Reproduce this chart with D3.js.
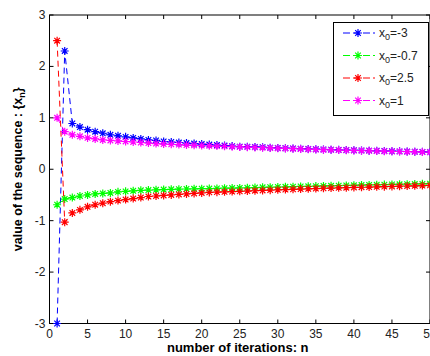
<!DOCTYPE html>
<html>
<head>
<meta charset="utf-8">
<script src="https://cdn.jsdelivr.net/npm/d3@7"></script>
<style>
  body { margin: 0; background: #fff; }
  svg { display: block; font-family: "Liberation Sans", Arial, sans-serif; }
</style>
</head>
<body>
<div id="chart"></div>
<script>
// values, n = 1..50
const seriesBlue = [-3, 2.3, 0.89, 0.82, 0.77, 0.73, 0.70, 0.67, 0.65, 0.63,
  0.61, 0.59, 0.57, 0.56, 0.54, 0.53, 0.52, 0.51, 0.50, 0.49,
  0.48, 0.47, 0.46, 0.45, 0.44, 0.44, 0.435, 0.43, 0.42, 0.415,
  0.41, 0.405, 0.40, 0.395, 0.39, 0.385, 0.38, 0.377, 0.373, 0.37,
  0.366, 0.362, 0.358, 0.355, 0.352, 0.348, 0.345, 0.342, 0.338, 0.335];
const seriesGreen = [-0.69, -0.58, -0.55, -0.52, -0.50, -0.48, -0.47, -0.46, -0.44, -0.43,
  -0.42, -0.41, -0.405, -0.40, -0.395, -0.39, -0.387, -0.384, -0.381, -0.378,
  -0.375, -0.372, -0.369, -0.366, -0.363, -0.36, -0.356, -0.352, -0.348, -0.345,
  -0.342, -0.338, -0.335, -0.332, -0.328, -0.325, -0.322, -0.318, -0.315, -0.312,
  -0.308, -0.305, -0.302, -0.299, -0.296, -0.293, -0.29, -0.287, -0.284, -0.28];
const seriesRed = [2.5, -1.03, -0.85, -0.79, -0.73, -0.69, -0.66, -0.63, -0.61, -0.59,
  -0.57, -0.55, -0.53, -0.52, -0.51, -0.50, -0.49, -0.48, -0.47, -0.46,
  -0.45, -0.445, -0.44, -0.435, -0.43, -0.424, -0.418, -0.412, -0.406, -0.40,
  -0.395, -0.39, -0.385, -0.38, -0.375, -0.37, -0.366, -0.362, -0.358, -0.354,
  -0.35, -0.346, -0.342, -0.338, -0.334, -0.33, -0.326, -0.322, -0.318, -0.314];
const seriesMagenta = [1, 0.73, 0.67, 0.64, 0.61, 0.59, 0.57, 0.56, 0.55, 0.54,
  0.53, 0.52, 0.51, 0.50, 0.49, 0.485, 0.48, 0.47, 0.465, 0.46,
  0.455, 0.45, 0.445, 0.44, 0.435, 0.43, 0.425, 0.42, 0.415, 0.41,
  0.405, 0.40, 0.395, 0.39, 0.385, 0.38, 0.377, 0.373, 0.37, 0.366,
  0.362, 0.358, 0.355, 0.352, 0.348, 0.345, 0.342, 0.338, 0.335, 0.332];
const legendLabels = ['-3', '-0.7', '2.5', '1'];
const colors = ['#0000ff', '#00ff00', '#ff0000', '#ff00ff'];
const xTicks = [0, 5, 10, 15, 20, 25, 30, 35, 40, 45, 50];
const yTicks = [-3, -2, -1, 0, 1, 2, 3];

const width = 430;
const height = 356;
const mLeft = 49.5, mRight = 430, mTop = 15, mBottom = 323.5;

const svg = d3.select('#chart')
  .append('svg')
  .attr('width', width)
  .attr('height', height);

const x = d3.scaleLinear().domain([0, 50]).range([mLeft, mRight]);
const y = d3.scaleLinear().domain([-3, 3]).range([mBottom, mTop]);

const allSeries = [seriesBlue, seriesGreen, seriesRed, seriesMagenta];

// axes box
svg.append('rect')
  .attr('x', mLeft).attr('y', mTop)
  .attr('width', mRight - mLeft).attr('height', mBottom - mTop)
  .attr('fill', 'none').attr('stroke', '#000').attr('stroke-width', 1);

// ticks, pointing inward on all four sides
const tickLen = 4;
xTicks.forEach(t => {
  svg.append('line').attr('x1', x(t)).attr('x2', x(t)).attr('y1', mBottom).attr('y2', mBottom - tickLen).attr('stroke', '#000');
  svg.append('line').attr('x1', x(t)).attr('x2', x(t)).attr('y1', mTop).attr('y2', mTop + tickLen).attr('stroke', '#000');
  svg.append('text')
    .attr('x', x(t)).attr('y', mBottom + 14)
    .attr('text-anchor', 'middle')
    .attr('font-size', '12px')
    .attr('fill', '#222')
    .text(t);
});
yTicks.forEach(t => {
  svg.append('line').attr('x1', mLeft).attr('x2', mLeft + tickLen).attr('y1', y(t)).attr('y2', y(t)).attr('stroke', '#000');
  svg.append('line').attr('x1', mRight - tickLen).attr('x2', mRight).attr('y1', y(t)).attr('y2', y(t)).attr('stroke', '#000');
  svg.append('text')
    .attr('x', mLeft - 4).attr('y', y(t) + 4)
    .attr('text-anchor', 'end')
    .attr('font-size', '12px')
    .attr('fill', '#222')
    .text(t);
});

// star marker like matlab '*'
function star(g, cx, cy, color, r) {
  const d = r * 0.7;
  const p = `M${cx - r},${cy}L${cx + r},${cy}M${cx},${cy - r}L${cx},${cy + r}` +
    `M${cx - d},${cy - d}L${cx + d},${cy + d}M${cx - d},${cy + d}L${cx + d},${cy - d}`;
  g.append('path').attr('d', p).attr('stroke', color).attr('stroke-width', 1.2).attr('fill', 'none');
}

const line = d3.line()
  .x((d, i) => x(i + 1))
  .y(d => y(d));

const plot = svg.append('g');
allSeries.forEach((s, k) => {
  const g = plot.append('g');
  g.append('path')
    .attr('d', line(s))
    .attr('fill', 'none')
    .attr('stroke', colors[k])
    .attr('stroke-width', 1)
    .attr('stroke-dasharray', '6,4');
  s.forEach((v, i) => star(g, x(i + 1), y(v), colors[k], 4));
});

// legend
const lx = 333, ly = 22, lw = 95, lh = 93;
svg.append('rect')
  .attr('x', lx + 0.5).attr('y', ly + 0.5)
  .attr('width', lw).attr('height', lh)
  .attr('fill', '#fff').attr('stroke', '#000');
legendLabels.forEach((lab, k) => {
  const yy = ly + 11 + k * 22.5;
  svg.append('line')
    .attr('x1', lx + 10).attr('x2', lx + 42)
    .attr('y1', yy).attr('y2', yy)
    .attr('stroke', colors[k])
    .attr('stroke-dasharray', '7,3');
  star(svg, lx + 25, yy, colors[k], 4);
  const t = svg.append('text')
    .attr('x', lx + 46).attr('y', yy + 4)
    .attr('font-size', '12px')
    .attr('fill', '#222');
  t.append('tspan').text('x');
  t.append('tspan').attr('font-size', '9px').attr('dy', 3).text('0');
  t.append('tspan').attr('dy', -3).text('=' + lab);
});

// axis labels
svg.append('text')
  .attr('x', (mLeft + mRight) / 2 - 2).attr('y', 352)
  .attr('text-anchor', 'middle')
  .attr('font-size', '13px')
  .attr('font-weight', 'bold')
  .text('number of iterations: n');

const yl = svg.append('text')
  .attr('transform', `translate(22,${(mTop + mBottom) / 2}) rotate(-90)`)
  .attr('text-anchor', 'middle')
  .attr('font-size', '12.5px')
  .attr('font-weight', 'bold');
yl.append('tspan').text('value of the sequence : {x');
yl.append('tspan').attr('font-size', '9px').attr('dy', 3).text('n');
yl.append('tspan').attr('dy', -3).text('}');
</script>
</body>
</html>
